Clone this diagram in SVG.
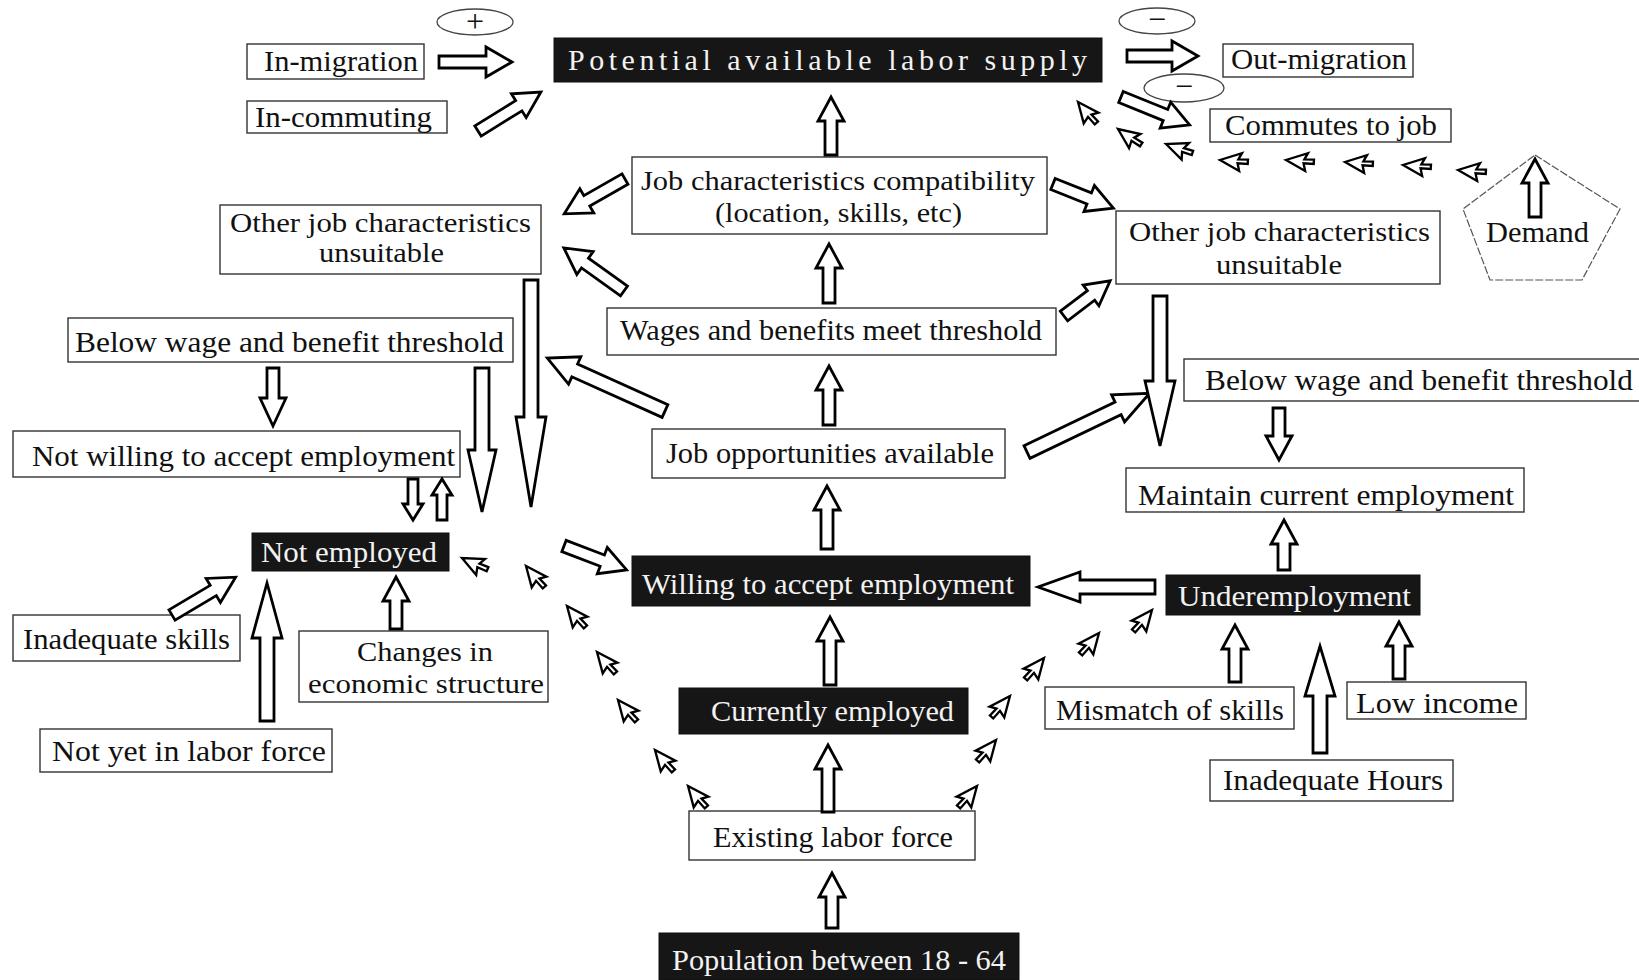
<svg xmlns="http://www.w3.org/2000/svg" xmlns:xlink="http://www.w3.org/1999/xlink" width="1639" height="980" viewBox="0 0 1639 980">
<style>
.bg{fill:#fff}
.box rect{fill:#fff;stroke:#333;stroke-width:1.4}
.dark rect{fill:#161616;stroke:#111;stroke-width:1}
text{font-family:"Liberation Serif","Times New Roman",serif;font-size:30px;fill:#111}
text.two{font-size:27px}
.dark text{fill:#f2f2f2}
.arr path{fill:#fff;stroke:#000;stroke-width:2.8;stroke-linejoin:miter}
.cur use{fill:#fff;stroke:#000;stroke-width:1.8}
.sign ellipse{fill:none;stroke:#444;stroke-width:1.3}
g.sign text{font-size:32px}
</style>
<defs>
<path id="cur" d="M0,0 L0,17 L4.5,13 L8,20 L11,18.5 L7.5,12 L13,12 Z"/>
</defs>
<rect class="bg" x="0" y="0" width="1639" height="980"/>

<g id="sign-plus" class="sign"><ellipse cx="475" cy="22" rx="38" ry="13"/><text x="475" y="32" text-anchor="middle">+</text></g>
<g id="sign-minus1" class="sign"><ellipse cx="1157" cy="21" rx="38" ry="13"/><text x="1157" y="30" text-anchor="middle">−</text></g>
<g id="sign-minus2" class="sign"><ellipse cx="1184" cy="88" rx="40" ry="14"/><text x="1184" y="97" text-anchor="middle">−</text></g>

<g id="in-migration" class="box"><rect x="247" y="44" width="177" height="35"/><text x="264" y="71" textLength="154" lengthAdjust="spacingAndGlyphs">In-migration</text></g>
<g id="in-commuting" class="box"><rect x="247" y="101" width="200" height="32"/><text x="255" y="127" textLength="177" lengthAdjust="spacingAndGlyphs">In-commuting</text></g>
<g id="potential" class="dark"><rect x="554" y="38" width="548" height="44"/><text x="568" y="70" textLength="519" lengthAdjust="spacing">Potential available  labor supply</text></g>
<g id="out-migration" class="box"><rect x="1223" y="44" width="190" height="33"/><text x="1231" y="69" textLength="176" lengthAdjust="spacingAndGlyphs">Out-migration</text></g>
<g id="commutes" class="box"><rect x="1210" y="109" width="241" height="33"/><text x="1225" y="135" textLength="212" lengthAdjust="spacingAndGlyphs">Commutes to job</text></g>
<g id="demand"><polygon points="1535,155 1620,209 1582,280 1490,280 1463,209" fill="none" stroke="#555" stroke-width="1.2" stroke-dasharray="8,2"/><text x="1486" y="242" textLength="103" lengthAdjust="spacingAndGlyphs">Demand</text></g>

<g id="job-char" class="box"><rect x="632" y="157" width="415" height="77"/><text class="two" x="641" y="190" textLength="394" lengthAdjust="spacingAndGlyphs">Job characteristics compatibility</text><text class="two" x="715" y="222" textLength="247" lengthAdjust="spacingAndGlyphs">(location, skills, etc)</text></g>
<g id="other-left" class="box"><rect x="220" y="205" width="321" height="69"/><text class="two" x="230" y="232" textLength="301" lengthAdjust="spacingAndGlyphs">Other job characteristics</text><text class="two" x="319" y="262" textLength="125" lengthAdjust="spacingAndGlyphs">unsuitable</text></g>
<g id="other-right" class="box"><rect x="1116" y="211" width="324" height="73"/><text class="two" x="1129" y="241" textLength="301" lengthAdjust="spacingAndGlyphs">Other job characteristics</text><text class="two" x="1216" y="274" textLength="126" lengthAdjust="spacingAndGlyphs">unsuitable</text></g>
<g id="wages" class="box"><rect x="607" y="308" width="449" height="47"/><text x="620" y="340" textLength="422" lengthAdjust="spacingAndGlyphs">Wages and benefits meet threshold</text></g>
<g id="below-left" class="box"><rect x="68" y="318" width="445" height="44"/><text x="75" y="352" textLength="429" lengthAdjust="spacingAndGlyphs">Below wage and  benefit threshold</text></g>
<g id="below-right" class="box"><rect x="1184" y="359" width="460" height="42"/><text x="1205" y="390" textLength="428" lengthAdjust="spacingAndGlyphs">Below wage and  benefit threshold</text></g>
<g id="job-opp" class="box"><rect x="652" y="429" width="353" height="49"/><text x="666" y="463" textLength="328" lengthAdjust="spacingAndGlyphs">Job opportunities available</text></g>
<g id="maintain" class="box"><rect x="1126" y="468" width="398" height="44"/><text x="1138" y="505" textLength="376" lengthAdjust="spacingAndGlyphs">Maintain current  employment</text></g>
<g id="not-willing" class="box"><rect x="13" y="431" width="447" height="46"/><text x="32" y="466" textLength="423" lengthAdjust="spacingAndGlyphs">Not willing to accept employment</text></g>
<g id="not-employed" class="dark"><rect x="252" y="533" width="197" height="38"/><text x="261" y="562" textLength="176" lengthAdjust="spacingAndGlyphs">Not employed</text></g>
<g id="willing" class="dark"><rect x="632" y="556" width="398" height="50"/><text x="642" y="594" textLength="372" lengthAdjust="spacingAndGlyphs">Willing to accept  employment</text></g>
<g id="underemployment" class="dark"><rect x="1166" y="575" width="254" height="40"/><text x="1178" y="606" textLength="233" lengthAdjust="spacingAndGlyphs">Underemployment</text></g>
<g id="inadequate-skills" class="box"><rect x="13" y="615" width="227" height="46"/><text x="23" y="649" textLength="207" lengthAdjust="spacingAndGlyphs">Inadequate skills</text></g>
<g id="changes" class="box"><rect x="299" y="631" width="249" height="71"/><text class="two" x="357" y="661" textLength="136" lengthAdjust="spacingAndGlyphs">Changes in</text><text class="two" x="308" y="693" textLength="236" lengthAdjust="spacingAndGlyphs">economic structure</text></g>
<g id="not-yet" class="box"><rect x="40" y="729" width="292" height="43"/><text x="52" y="761" textLength="274" lengthAdjust="spacingAndGlyphs">Not yet in  labor force</text></g>
<g id="currently" class="dark"><rect x="679" y="688" width="289" height="46"/><text x="711" y="721" textLength="243" lengthAdjust="spacingAndGlyphs">Currently employed</text></g>
<g id="mismatch" class="box"><rect x="1045" y="687" width="249" height="42"/><text x="1056" y="720" textLength="228" lengthAdjust="spacingAndGlyphs">Mismatch of skills</text></g>
<g id="low-income" class="box"><rect x="1347" y="682" width="179" height="37"/><text x="1356" y="713" textLength="162" lengthAdjust="spacingAndGlyphs">Low  income</text></g>
<g id="inadequate-hours" class="box"><rect x="1210" y="760" width="243" height="41"/><text x="1223" y="790" textLength="220" lengthAdjust="spacingAndGlyphs">Inadequate Hours</text></g>
<g id="existing" class="box"><rect x="689" y="811" width="286" height="49"/><text x="713" y="847" textLength="240" lengthAdjust="spacingAndGlyphs">Existing labor force</text></g>
<g id="population" class="dark"><rect x="659" y="933" width="360" height="47"/><text x="672" y="970" textLength="334" lengthAdjust="spacingAndGlyphs">Population between 18 - 64</text></g>

<g id="connectors">
<g class="arr">
<g transform="translate(439,62)"><path d="M0,-6 H47 V-15 L73,0 L47,15 V6 H0 Z"/></g>
<g transform="translate(478,131) rotate(-31.8)"><path d="M0,-6 H48 V-14 L74,0 L48,14 V6 H0 Z"/></g>
<g transform="translate(1127,56)"><path d="M0,-6 H45 V-15 L71,0 L45,15 V6 H0 Z"/></g>
<g transform="translate(1121,97) rotate(22.1)"><path d="M0,-6 H48 V-14 L74,0 L48,14 V6 H0 Z"/></g>
<g transform="translate(831,155) rotate(-90)"><path d="M0,-6 H34 V-13 L58,0 L34,13 V6 H0 Z"/></g>
<g transform="translate(625,179) rotate(150.2)"><path d="M0,-6 H44 V-14 L70,0 L44,14 V6 H0 Z"/></g>
<g transform="translate(1053,184) rotate(21.8)"><path d="M0,-6 H39 V-14 L65,0 L39,14 V6 H0 Z"/></g>
<g transform="translate(829,303) rotate(-90)"><path d="M0,-6 H35 V-13 L59,0 L35,13 V6 H0 Z"/></g>
<g transform="translate(624,291) rotate(-144.4)"><path d="M0,-6 H48 V-14 L74,0 L48,14 V6 H0 Z"/></g>
<g transform="translate(1064,316) rotate(-37.3)"><path d="M0,-6 H34 V-13 L58,0 L34,13 V6 H0 Z"/></g>
<g transform="translate(531,280) rotate(90)"><path d="M0,-7 H137 V-15 L227,0 L137,15 V7 H0 Z"/></g>
<g transform="translate(273,368) rotate(90)"><path d="M0,-6 H30 V-13 L58,0 L30,13 V6 H0 Z"/></g>
<g transform="translate(482,368) rotate(90)"><path d="M0,-7 H82 V-14 L144,0 L82,14 V7 H0 Z"/></g>
<g transform="translate(665,411) rotate(-155.8)"><path d="M0,-7 H99 V-15 L129,0 L99,15 V7 H0 Z"/></g>
<g transform="translate(829,425) rotate(-90)"><path d="M0,-6 H35 V-13 L59,0 L35,13 V6 H0 Z"/></g>
<g transform="translate(1027,452) rotate(-25.6)"><path d="M0,-7 H101 V-15 L136,0 L101,15 V7 H0 Z"/></g>
<g transform="translate(1160,296) rotate(90)"><path d="M0,-7 H85 V-15 L150,0 L85,15 V7 H0 Z"/></g>
<g transform="translate(1279,408) rotate(90)"><path d="M0,-6 H28 V-13 L52,0 L28,13 V6 H0 Z"/></g>
<g transform="translate(413,479) rotate(90)"><path d="M0,-5 H25 V-10 L41,0 L25,10 V5 H0 Z"/></g>
<g transform="translate(442,520) rotate(-90)"><path d="M0,-5 H25 V-10 L41,0 L25,10 V5 H0 Z"/></g>
<g transform="translate(564,546) rotate(20.9)"><path d="M0,-6 H41 V-14 L67,0 L41,14 V6 H0 Z"/></g>
<g transform="translate(827,549) rotate(-90)"><path d="M0,-6 H39 V-13 L63,0 L39,13 V6 H0 Z"/></g>
<g transform="translate(1155,587) rotate(180)"><path d="M0,-7 H75 V-15 L117,0 L75,15 V7 H0 Z"/></g>
<g transform="translate(1284,570) rotate(-90)"><path d="M0,-6 H26 V-13 L50,0 L26,13 V6 H0 Z"/></g>
<g transform="translate(172,615) rotate(-30.7)"><path d="M0,-6 H48 V-14 L74,0 L48,14 V6 H0 Z"/></g>
<g transform="translate(267,721) rotate(-90)"><path d="M0,-7 H83 V-15 L138,0 L83,15 V7 H0 Z"/></g>
<g transform="translate(396,629) rotate(-90)"><path d="M0,-6 H28 V-13 L52,0 L28,13 V6 H0 Z"/></g>
<g transform="translate(830,685) rotate(-90)"><path d="M0,-6 H44 V-13 L68,0 L44,13 V6 H0 Z"/></g>
<g transform="translate(1235,682) rotate(-90)"><path d="M0,-6 H33 V-13 L57,0 L33,13 V6 H0 Z"/></g>
<g transform="translate(1320,753) rotate(-90)"><path d="M0,-7 H57 V-15 L107,0 L57,15 V7 H0 Z"/></g>
<g transform="translate(1399,679) rotate(-90)"><path d="M0,-6 H33 V-13 L57,0 L33,13 V6 H0 Z"/></g>
<g transform="translate(828,812) rotate(-90)"><path d="M0,-6 H43 V-13 L67,0 L43,13 V6 H0 Z"/></g>
<g transform="translate(832,928) rotate(-90)"><path d="M0,-6 H31 V-13 L55,0 L31,13 V6 H0 Z"/></g>
<g transform="translate(1535,217) rotate(-90)"><path d="M0,-6 H34 V-13 L58,0 L34,13 V6 H0 Z"/></g>
</g>
<g class="cur">
<use xlink:href="#cur" href="#cur" transform="translate(688,786) rotate(-15) scale(1.3)"/>
<use xlink:href="#cur" href="#cur" transform="translate(655,750) rotate(-15) scale(1.3)"/>
<use xlink:href="#cur" href="#cur" transform="translate(618,700) rotate(-15) scale(1.3)"/>
<use xlink:href="#cur" href="#cur" transform="translate(597,652) rotate(-15) scale(1.3)"/>
<use xlink:href="#cur" href="#cur" transform="translate(567,606) rotate(-15) scale(1.3)"/>
<use xlink:href="#cur" href="#cur" transform="translate(526,566) rotate(-15) scale(1.3)"/>
<use xlink:href="#cur" href="#cur" transform="translate(462,558) rotate(-40) scale(1.3)"/>
<use xlink:href="#cur" href="#cur" transform="translate(977,786) scale(-1.3,1.3) rotate(-15)"/>
<use xlink:href="#cur" href="#cur" transform="translate(996,740) scale(-1.3,1.3) rotate(-15)"/>
<use xlink:href="#cur" href="#cur" transform="translate(1010,696) scale(-1.3,1.3) rotate(-15)"/>
<use xlink:href="#cur" href="#cur" transform="translate(1044,658) scale(-1.3,1.3) rotate(-15)"/>
<use xlink:href="#cur" href="#cur" transform="translate(1099,633) scale(-1.3,1.3) rotate(-15)"/>
<use xlink:href="#cur" href="#cur" transform="translate(1152,610) scale(-1.3,1.3) rotate(-15)"/>
<use xlink:href="#cur" href="#cur" transform="translate(1078,102) rotate(-15) scale(1.3)"/>
<use xlink:href="#cur" href="#cur" transform="translate(1118,129) rotate(-30) scale(1.3)"/>
<use xlink:href="#cur" href="#cur" transform="translate(1166,144) rotate(-45) scale(1.3)"/>
<use xlink:href="#cur" href="#cur" transform="translate(1220,160) rotate(-60) scale(1.3)"/>
<use xlink:href="#cur" href="#cur" transform="translate(1286,160) rotate(-60) scale(1.3)"/>
<use xlink:href="#cur" href="#cur" transform="translate(1345,162) rotate(-60) scale(1.3)"/>
<use xlink:href="#cur" href="#cur" transform="translate(1403,165) rotate(-60) scale(1.3)"/>
<use xlink:href="#cur" href="#cur" transform="translate(1458,170) rotate(-60) scale(1.3)"/>
</g>
</g>
</svg>
